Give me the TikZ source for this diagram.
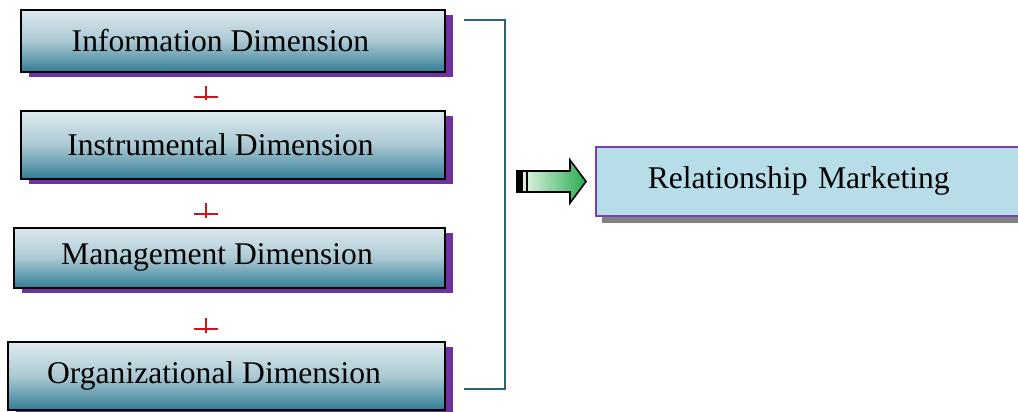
\documentclass[tikz,border=0pt]{standalone}
\usepackage{fontspec}
\setmainfont{Liberation Serif}
\usetikzlibrary{positioning,shadows}
\definecolor{dimtop}{RGB}{221,233,238}
\definecolor{dimmid}{RGB}{172,202,212}
\definecolor{dimbot}{RGB}{52,126,150}
\definecolor{shadowpurple}{RGB}{112,48,160}
\definecolor{rmfill}{RGB}{183,221,232}
\definecolor{rmborder}{RGB}{124,62,176}
\definecolor{bracketteal}{RGB}{47,98,115}
\definecolor{plusred}{RGB}{210,20,20}
\definecolor{arrowlight}{RGB}{214,240,220}
\definecolor{arrowdark}{RGB}{40,172,80}

\begin{document}
\begin{tikzpicture}[x=0.5pt,y=-0.5pt,
	dimbox/.style={draw=black,line width=1pt,top color=dimtop,bottom color=dimbot,middle color=dimmid,
		drop shadow={shadow xshift=3.75pt,shadow yshift=-2.75pt,fill=shadowpurple,opacity=1},
		inner sep=0pt,font=\fontsize{15.8}{19}\selectfont},
	plusmark/.style={draw=plusred,line width=0.8pt}]
	\clip (0,0) rectangle (1018,412);
	\node[dimbox,minimum width=212pt,minimum height=31pt,anchor=north east] (info) at (446,8.5) {Information Dimension\kern12.5pt};
	\node[dimbox,minimum width=212pt,minimum height=34pt,below=18.5pt of info.south east,anchor=north east] (instr) {Instrumental Dimension\kern12.5pt};
	\node[dimbox,minimum width=215.5pt,minimum height=30pt,below=23.5pt of instr.south east,anchor=north east] (mgmt) {Management Dimension\kern12.5pt};
	\node[dimbox,minimum width=218.5pt,minimum height=34pt,below=26pt of mgmt.south east,anchor=north east] (org) {Organizational Dimension\kern12.5pt};
	
	% plus marks between the boxes
	\draw[plusmark] (194,97) -- (218,97) (206,86) -- (206,100);
	\draw[plusmark] (194,214) -- (218,214) (206,203) -- (206,218);
	\draw[plusmark] (194,329) -- (218,329) (206,318) -- (206,333);
	
	% bracket
	\coordinate (btop) at (464,20);
	\coordinate (bbot) at (464,389);
	\draw[bracketteal,line width=1pt] (btop) -- (505,20) -- (505,389) -- (bbot);
	
	% block arrow
	\draw[fill=black,line width=0.6pt] (517,171) rectangle (522,192);
	\draw[fill=arrowlight,line width=0.6pt] (522,171) rectangle (527,192);
	\draw[line width=0.8pt,line join=miter,left color=arrowlight,right color=arrowdark]
		(527,171) -- (570,171) -- (570,160) -- (586,181.5) -- (570,203) -- (570,192) -- (527,192) -- cycle;
	
	\node[draw=rmborder,line width=0.8pt,fill=rmfill,anchor=north west,
		drop shadow={shadow xshift=3pt,shadow yshift=-3.5pt,fill=gray,opacity=1},
		minimum height=34.5pt,text width=165pt,inner xsep=26pt,inner ysep=0pt,align=left,
		font=\fontsize{15.8}{19}\selectfont] (rm) at (595,146) {Relationship Marketing};
\end{tikzpicture}
\end{document}
